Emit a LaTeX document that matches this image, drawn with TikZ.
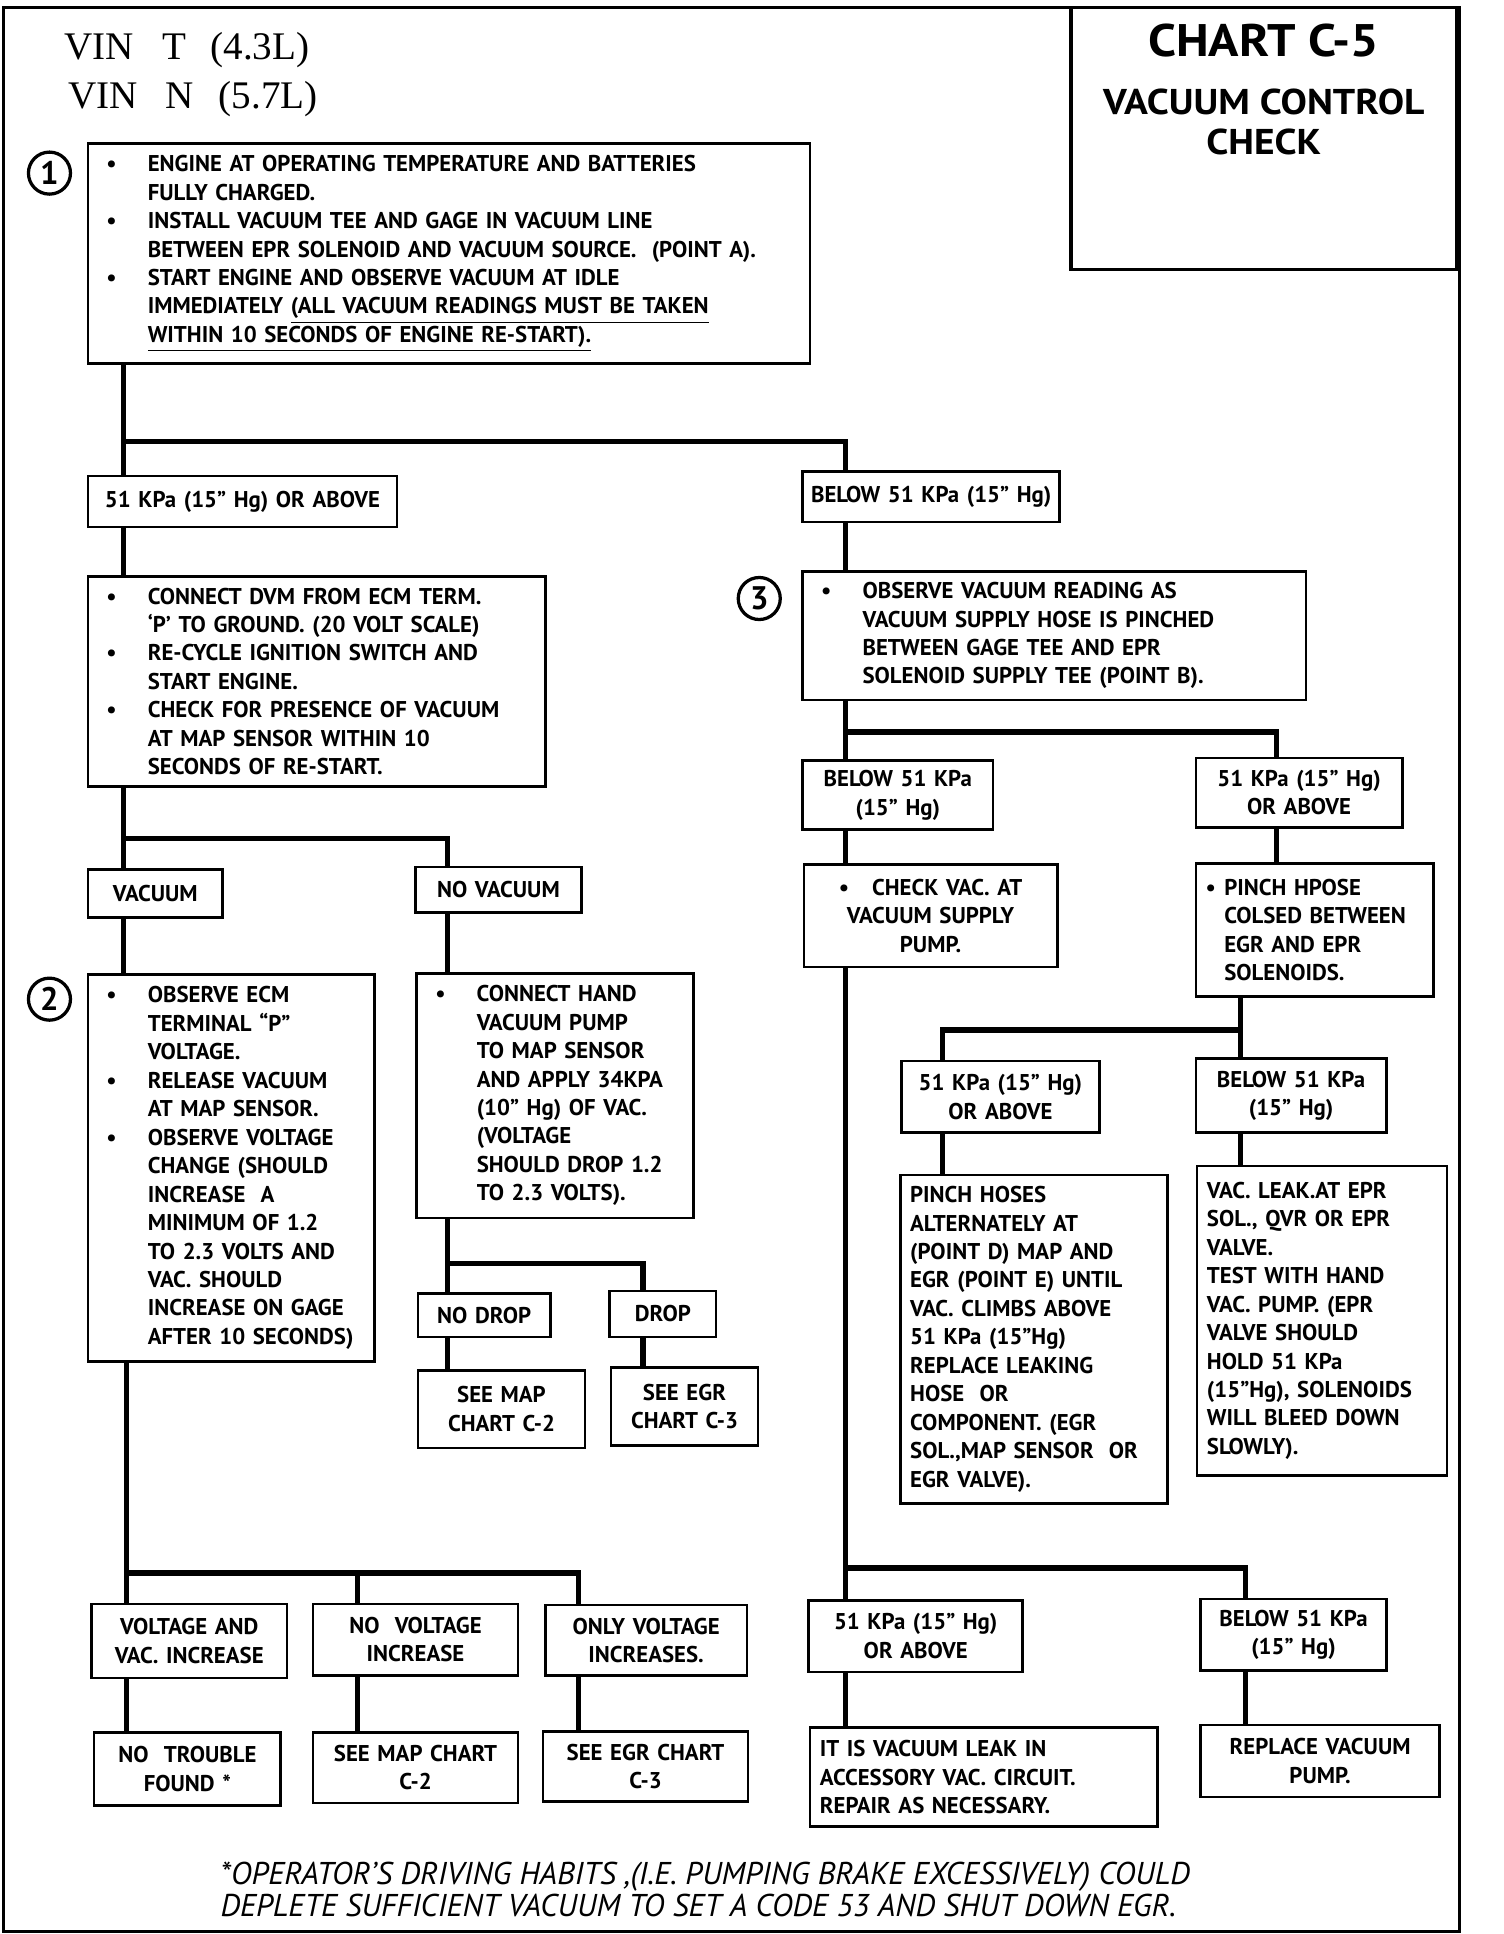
\documentclass[tikz,border=0pt]{standalone}
\usepackage{fontspec}
\setmainfont{PT Sans}
\newfontfamily\vinfont{Liberation Serif}
\newfontfamily\titlefont{PT Sans}[FakeStretch=1.1]
\newcommand{\boxfont}{\bfseries\fontsize{10.5}{13.1}\selectfont}
\newcommand{\bl}{\makebox[0.85cm][l]{\hspace{0.18cm}\textbullet}}
\newcommand{\ind}{\hspace*{0.85cm}}
\newcommand{\bs}{\makebox[0.3cm][l]{\textbullet}}
\newcommand{\is}{\hspace*{0.3cm}}

\begin{document}
\begin{tikzpicture}[x=0.02cm, y=-0.02cm,
  note/.style={draw, line width=1.2pt, anchor=north west, align=left,
    inner xsep=0.12cm, inner ysep=0pt, font=\boxfont},
  plain/.style={note, inner xsep=0.16cm},
  tag/.style={note, align=center, inner xsep=0.05cm},
  link/.style={line width=2.4pt, line cap=rect},
  num/.style={draw, circle, line width=1.5pt, minimum size=0.68cm,
    inner sep=0pt, font=\bfseries\fontsize{15}{15}\selectfont}]
  \useasboundingbox (0,0) rectangle (1216,1564);
  \draw[line width=1.5pt] (3,6) rectangle (1180,1562);
  \draw[line width=1.5pt] (866,6) rectangle (1178,218);

  % header and title
  \node[anchor=base west, inner sep=0, font=\vinfont\fontsize{18}{18}\selectfont] (vint) at (52,48) {VIN\hspace{0.45cm}T\hspace{0.4cm}(4.3L)};
  \node[anchor=base west, inner sep=0, font=\vinfont\fontsize{18}{18}\selectfont] (vinn) at (55,88) {VIN\hspace{0.45cm}N\hspace{0.4cm}(5.7L)};
  \node[anchor=base, inner sep=0, font=\titlefont\bfseries\fontsize{21}{21}\selectfont] (chart) at (1022,46) {CHART C-5};
  \node[anchor=base, inner sep=0, font=\titlefont\bfseries\fontsize{16.5}{16.5}\selectfont] (title) at (1022,93) {VACUUM CONTROL};
  \node[anchor=base, inner sep=0, font=\titlefont\bfseries\fontsize{16.5}{16.5}\selectfont] (check) at (1022,125) {CHECK};

  \node[num] (n1) at (40,140) {1};
  \node[num] (n2) at (40,808) {2};
  \node[num] (n3) at (614,484) {3};

  % left column
  \node[note, text width=11.44cm, minimum height=3.56cm] (b1) at (70,115) {\bl ENGINE AT OPERATING TEMPERATURE AND BATTERIES\\\ind FULLY CHARGED.\\\bl INSTALL VACUUM TEE AND GAGE IN VACUUM LINE\\\ind BETWEEN EPR SOLENOID AND VACUUM SOURCE.\ \ (POINT A).\\\bl START ENGINE AND OBSERVE VACUUM AT IDLE\\\ind IMMEDIATELY \underline{(ALL VACUUM READINGS MUST BE TAKEN}\\\ind\underline{WITHIN 10 SECONDS OF ENGINE RE-START).}};
  \node[tag, text width=4.9cm, minimum height=0.82cm] (k1) at (70,384) {51 KPa (15'' Hg) OR ABOVE};
  \node[tag, text width=4.06cm, minimum height=0.82cm] (k2) at (648,380) {BELOW 51 KPa (15'' Hg)};
  \node[note, text width=7.16cm, minimum height=3.4cm] (b2) at (70,465) {\bl CONNECT DVM FROM ECM TERM.\\\ind `P' TO GROUND. (20 VOLT SCALE)\\\bl RE-CYCLE IGNITION SWITCH AND\\\ind START ENGINE.\\\bl CHECK FOR PRESENCE OF VACUUM\\\ind AT MAP SENSOR WITHIN 10\\\ind SECONDS OF RE-START.};
  \node[tag, text width=2.08cm, minimum height=0.78cm] (v1) at (70,702) {VACUUM};
  \node[tag, text width=2.58cm, minimum height=0.74cm] (v2) at (335,700) {NO VACUUM};
  \node[note, text width=4.4cm, minimum height=6.26cm] (b4) at (70,787) {\bl OBSERVE ECM\\\ind TERMINAL ``P''\\\ind VOLTAGE.\\\bl RELEASE VACUUM\\\ind AT MAP SENSOR.\\\bl OBSERVE VOLTAGE\\\ind CHANGE (SHOULD\\\ind INCREASE\ \ A\\\ind MINIMUM OF 1.2\\\ind TO 2.3 VOLTS AND\\\ind VAC. SHOULD\\\ind INCREASE ON GAGE\\\ind AFTER 10 SECONDS)};
  \node[note, text width=4.24cm, minimum height=3.96cm] (b5) at (336,786) {\bl CONNECT HAND\\\ind VACUUM PUMP\\\ind TO MAP SENSOR\\\ind AND APPLY 34KPA\\\ind (10'' Hg) OF VAC.\\\ind (VOLTAGE\\\ind SHOULD DROP 1.2\\\ind TO 2.3 VOLTS).};
  \node[tag, text width=2.04cm, minimum height=0.7cm] (d1) at (337,1045) {NO DROP};
  \node[tag, text width=1.62cm, minimum height=0.74cm] (d2) at (492,1043) {DROP};
  \node[tag, text width=2.6cm, minimum height=1.26cm] (s1) at (337,1107) {SEE MAP\\CHART C-2};
  \node[tag, text width=2.28cm, minimum height=1.26cm] (s2) at (493,1105) {SEE EGR\\CHART C-3};
  \node[tag, text width=3.06cm, minimum height=1.2cm] (r1) at (73,1296) {VOLTAGE AND\\VAC. INCREASE};
  \node[tag, text width=3.22cm, minimum height=1.16cm] (r2) at (252,1296) {NO\ \ VOLTAGE\\INCREASE};
  \node[tag, text width=3.16cm, minimum height=1.14cm] (r3) at (440,1297) {ONLY VOLTAGE\\INCREASES.};
  \node[tag, text width=2.92cm, minimum height=1.18cm] (e1) at (75,1400) {NO\ \ TROUBLE\\FOUND *};
  \node[tag, text width=3.22cm, minimum height=1.14cm] (e2) at (252,1400) {SEE MAP CHART\\C-2};
  \node[tag, text width=3.22cm, minimum height=1.14cm] (e3) at (438,1399) {SEE EGR CHART\\C-3};

  % right column
  \node[note, text width=7.9cm, minimum height=2.08cm] (b3) at (648,461) {\bl OBSERVE VACUUM READING AS\\\ind VACUUM SUPPLY HOSE IS PINCHED\\\ind BETWEEN GAGE TEE AND EPR\\\ind SOLENOID SUPPLY TEE (POINT B).};
  \node[tag, text width=2.98cm, minimum height=1.12cm] (q1) at (648,614) {BELOW 51 KPa\\(15'' Hg)};
  \node[tag, text width=3.24cm, minimum height=1.12cm] (q2) at (966,612) {51 KPa (15'' Hg)\\OR ABOVE};
  \node[tag, text width=4.0cm, minimum height=1.66cm] (b6) at (649,698) {\textbullet\ \ \ CHECK VAC. AT\\VACUUM SUPPLY\\PUMP.};
  \node[plain, text width=3.52cm, minimum height=2.16cm] (b7) at (966,697) {\bs PINCH HPOSE\\\is COLSED BETWEEN\\\is EGR AND EPR\\\is SOLENOIDS.};
  \node[tag, text width=3.1cm, minimum height=1.16cm] (p1) at (728,857) {51 KPa (15'' Hg)\\OR ABOVE};
  \node[tag, text width=2.98cm, minimum height=1.2cm] (p2) at (966,855) {BELOW 51 KPa\\(15'' Hg)};
  \node[plain, text width=4.0cm, minimum height=5.32cm] (b8) at (727,949) {PINCH HOSES\\ALTERNATELY AT\\(POINT D) MAP AND\\EGR (POINT E) UNTIL\\VAC. CLIMBS ABOVE\\51 KPa (15''Hg)\\REPLACE LEAKING\\HOSE\ \ OR\\COMPONENT. (EGR\\SOL.,MAP SENSOR\ \ OR\\EGR VALVE).};
  \node[plain, text width=3.72cm, minimum height=5.0cm] (b9) at (967,942) {VAC. LEAK.AT EPR\\SOL., QVR OR EPR\\VALVE.\\TEST WITH HAND\\VAC. PUMP. (EPR\\VALVE SHOULD\\HOLD 51 KPa\\(15''Hg), SOLENOIDS\\WILL BLEED DOWN\\SLOWLY).};
  \node[tag, text width=3.36cm, minimum height=1.16cm] (t1) at (653,1293) {51 KPa (15'' Hg)\\OR ABOVE};
  \node[tag, text width=2.9cm, minimum height=1.16cm] (t2) at (970,1292) {BELOW 51 KPa\\(15'' Hg)};
  \node[plain, text width=5.3cm, minimum height=1.6cm] (u1) at (654,1396) {IT IS VACUUM LEAK IN\\ACCESSORY VAC. CIRCUIT.\\REPAIR AS NECESSARY.};
  \node[tag, text width=3.76cm, minimum height=1.16cm] (u2) at (970,1394) {REPLACE VACUUM\\PUMP.};

  % footnote
  \node[anchor=base west, inner sep=0, font=\itshape\fontsize{14.5}{17}\selectfont] (fn1) at (178,1524) {*OPERATOR'S DRIVING HABITS ,(I.E. PUMPING BRAKE EXCESSIVELY) COULD};
  \node[anchor=base west, inner sep=0, font=\itshape\fontsize{14.5}{17}\selectfont] (fn2) at (178,1550) {DEPLETE SUFFICIENT VACUUM TO SET A CODE 53 AND SHUT DOWN EGR.};

  % branch points
  \coordinate (j1) at (100,357);
  \coordinate (j2) at (684,357);
  \coordinate (j3) at (100,678);
  \coordinate (j4) at (362,678);
  \coordinate (j5) at (362,1022);
  \coordinate (j6) at (520,1022);
  \coordinate (j7) at (102,1272);
  \coordinate (j8) at (289,1272);
  \coordinate (j9) at (468,1272);
  \coordinate (j10) at (684,592);
  \coordinate (j11) at (1032,592);
  \coordinate (j12) at (1003,833);
  \coordinate (j13) at (762,833);
  \coordinate (j14) at (684,1268);
  \coordinate (j15) at (1007,1268);

  \draw[link] (b1.south -| j1) -- (k1.north -| j1);
  \draw[link] (j1) -- (j2) -- (k2.north -| j2);
  \draw[link] (k1.south -| j1) -- (b2.north -| j1);
  \draw[link] (b2.south -| j3) -- (v1.north -| j3);
  \draw[link] (j3) -- (j4) -- (v2.north -| j4);
  \draw[link] (v1.south -| j3) -- (b4.north -| j3);
  \draw[link] (v2.south -| j4) -- (b5.north -| j4);
  \draw[link] (b5.south -| j5) -- (d1.north -| j5);
  \draw[link] (j5) -- (j6) -- (d2.north -| j6);
  \draw[link] (d1.south -| j5) -- (s1.north -| j5);
  \draw[link] (d2.south -| j6) -- (s2.north -| j6);
  \draw[link] (b4.south -| j7) -- (r1.north -| j7);
  \draw[link] (j7) -- (j9) -- (r3.north -| j9);
  \draw[link] (j8) -- (r2.north -| j8);
  \draw[link] (r1.south -| j7) -- (e1.north -| j7);
  \draw[link] (r2.south -| j8) -- (e2.north -| j8);
  \draw[link] (r3.south -| j9) -- (e3.north -| j9);

  \draw[link] (k2.south -| j2) -- (b3.north -| j2);
  \draw[link] (b3.south -| j10) -- (q1.north -| j10);
  \draw[link] (j10) -- (j11) -- (q2.north -| j11);
  \draw[link] (q1.south -| j10) -- (b6.north -| j10);
  \draw[link] (q2.south -| j11) -- (b7.north -| j11);
  \draw[link] (b7.south -| j12) -- (p2.north -| j12);
  \draw[link] (j12) -- (j13) -- (p1.north -| j13);
  \draw[link] (p1.south -| j13) -- (b8.north -| j13);
  \draw[link] (p2.south -| j12) -- (b9.north -| j12);
  \draw[link] (b6.south -| j14) -- (t1.north -| j14);
  \draw[link] (j14) -- (j15) -- (t2.north -| j15);
  \draw[link] (t1.south -| j14) -- (u1.north -| j14);
  \draw[link] (t2.south -| j15) -- (u2.north -| j15);
\end{tikzpicture}
\end{document}
